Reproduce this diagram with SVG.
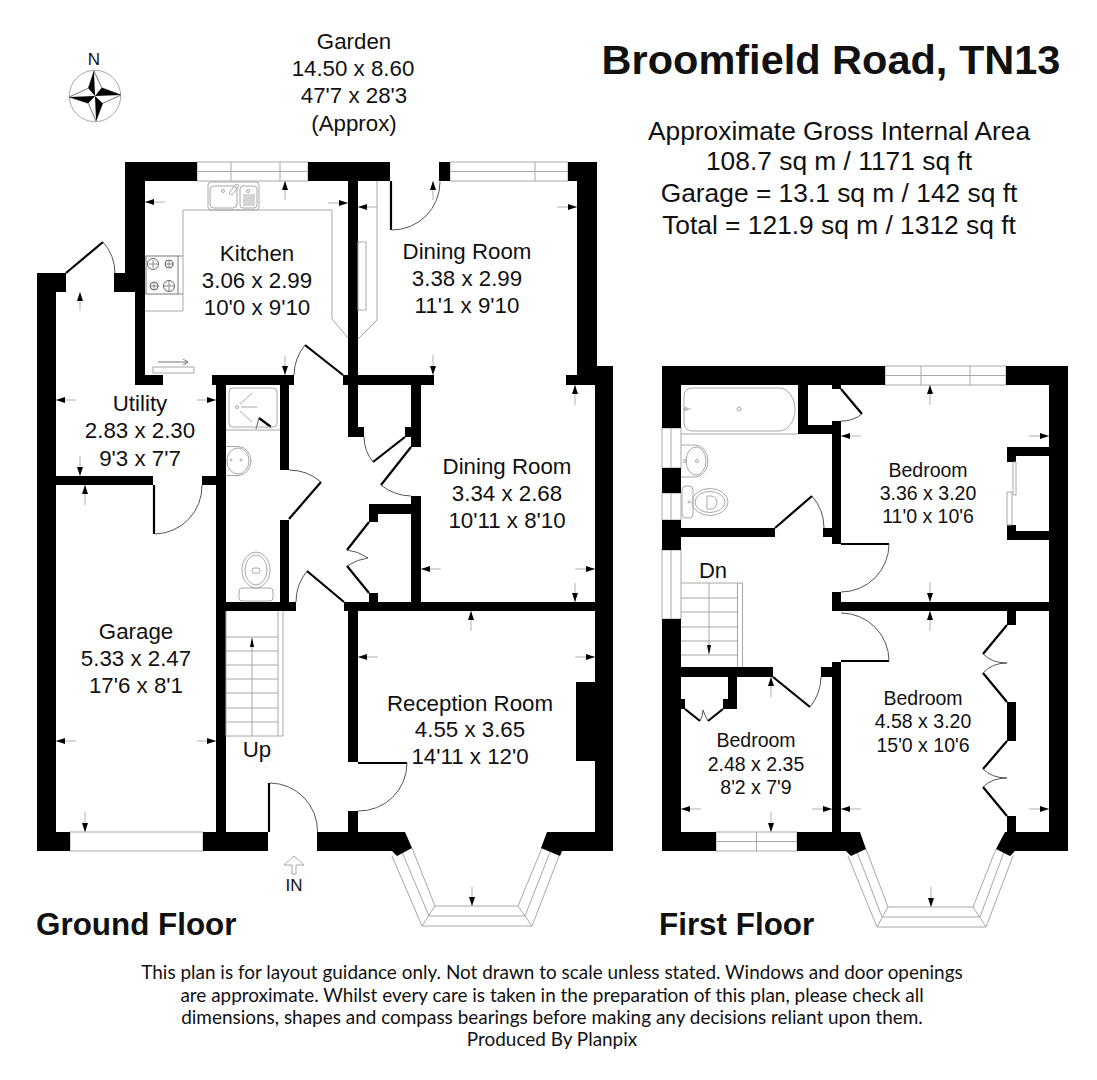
<svg xmlns="http://www.w3.org/2000/svg" width="1097" height="1080" viewBox="0 0 1097 1080">
<style>
text{font-family:"Liberation Sans",Arial,sans-serif;fill:#111;text-anchor:middle}
.r{font-size:22.3px}.b{font-size:19.5px}
.h{font-weight:bold;font-size:31.4px;fill:#111;text-anchor:start}
.f text{font-family:Lato,"Open Sans",sans-serif;font-size:18.95px}
.w{fill:#000}
.g{fill:#fff;stroke:#a8a8a8;stroke-width:1}
.l{fill:none;stroke:#a8a8a8;stroke-width:1}
.d{fill:none;stroke:#000;stroke-width:2.2}
.a{fill:none;stroke:#555;stroke-width:1}
.t{fill:none;stroke:#b0b0b0;stroke-width:1;marker-end:url(#ah)}
</style>
<defs>
<marker id="ah" markerUnits="userSpaceOnUse" markerWidth="10" markerHeight="6" refX="9" refY="3" orient="auto"><path d="M0 0L9 3L0 6Z" fill="#000"/></marker>
<marker id="as" markerUnits="userSpaceOnUse" markerWidth="6" markerHeight="6" refX="5" refY="3" orient="auto"><path d="M0 0L5 3L0 6" fill="none" stroke="#777"/></marker>
</defs>
<rect width="1097" height="1080" fill="#fff"/>

<g id="compass">
<text x="94" y="65" style="font-size:17px">N</text>
<circle cx="95" cy="96" r="25.7" fill="#fff" stroke="#aaa" stroke-width="1"/>
<path d="M94 71L101.7 87.7L121 95L102.7 103.3L96 121L88.3 103.3L69 97L88.3 88.3Z" fill="#fff" stroke="#777" stroke-width="1"/>
<path d="M94 71L88.3 88.3L95 96ZM121 95L101.7 87.7L95 96ZM96 121L102.7 103.3L95 96ZM69 97L88.3 103.3L95 96Z" fill="#000"/>
</g>

<g id="title">
<text x="831" y="74" style="font-size:41.500px;font-weight:bold">Broomfield Road, TN13</text>
<text x="839" y="140" style="font-size:26.350px">Approximate Gross Internal Area</text>
<text x="839" y="170" style="font-size:26.350px">108.7 sq m / 1171 sq ft</text>
<text x="839" y="202" style="font-size:26.350px">Garage = 13.1 sq m / 142 sq ft</text>
<text x="839" y="234" style="font-size:26.350px">Total = 121.9 sq m / 1312 sq ft</text>
</g>

<g id="garden" class="r">
<text x="354" y="49">Garden</text>
<text x="353" y="76">14.50 x 8.60</text>
<text x="354" y="103">47'7 x 28'3</text>
<text x="354" y="131">(Approx)</text>
</g>

<g id="ground-floor-windows">
<rect class="g" x="197" y="162" width="111" height="19"/><path class="l" d="M197 171.5H308M231 162V181M280 162V181"/>
<rect class="g" x="450" y="162" width="118" height="19"/><path class="l" d="M450 171.5H568M535 162V181"/>
<rect class="g" x="70" y="832" width="133" height="19"/>
<path class="l" d="M392 856L422 926H532L559 856M412 848L435 906H518L542 848M402 852L429 916H525L550 852M422 926L435 906M532 926L518 906"/>
</g>

<g id="ground-floor-walls" class="w">
<rect x="125" y="162" width="72" height="19"/><rect x="125" y="162" width="20" height="130"/><rect x="114" y="273" width="31" height="19"/>
<rect x="135" y="292" width="10" height="83"/><rect x="135" y="375" width="28" height="10"/><rect x="212" y="375" width="82" height="10"/>
<rect x="216" y="375" width="10" height="457"/><rect x="280" y="385" width="9" height="85"/><rect x="280" y="520" width="9" height="82"/>
<rect x="225" y="602" width="71" height="9"/><rect x="202" y="476" width="14" height="9"/><rect x="56" y="476" width="97" height="9"/>
<rect x="37" y="273" width="19" height="578"/><rect x="37" y="273" width="29" height="19"/>
<rect x="37" y="832" width="33" height="19"/><rect x="203" y="832" width="65" height="19"/>
<polygon points="317,832 405,832 412,848 397,856 392,851 317,851"/>
<polygon points="547,832 613,832 613,851 562,851 560,856 541,848"/>
<rect x="595" y="366" width="18" height="485"/><rect x="577" y="162" width="20" height="213"/><rect x="568" y="162" width="29" height="19"/><rect x="566" y="375" width="47" height="10"/>
<rect x="308" y="162" width="82" height="19"/><rect x="439" y="162" width="11" height="19"/>
<rect x="348" y="181" width="10" height="256"/><rect x="348" y="427" width="16" height="10"/><rect x="343" y="375" width="91" height="10"/>
<rect x="411" y="375" width="10" height="72"/><rect x="405" y="427" width="6" height="10"/>
<rect x="411" y="496" width="10" height="106"/><rect x="369" y="504" width="42" height="10"/><rect x="369" y="514" width="9" height="8"/><rect x="369" y="593" width="9" height="9"/>
<rect x="344" y="602" width="269" height="9"/><rect x="348" y="611" width="10" height="151"/><rect x="348" y="811" width="10" height="21"/>
<rect x="576" y="682" width="19" height="79"/>
</g>

<g id="ground-floor-doors">
<path class="d" d="M391 181V230M154 485V534M269 783V832M358 763H407M66 273L103 242M305 345L343 375M307 571L344 602M289 519L321 482M373 462L405 437M411 447L381 485M369 522L347 550M347 566L369 593M259 418L271 427"/>
<path class="a" d="M392 230A48 48 0 0 0 440 182M155 534A48 48 0 0 0 202 485M270 783A48 48 0 0 1 317.500 832M407 763A48 48 0 0 1 358 811M103 242A48 48 0 0 1 115 273M294 375A49 49 0 0 1 305 345M296 602A49 49 0 0 1 307 571M289 470A49 49 0 0 1 321 482M364 437A41 41 0 0 0 373 462M381 485A49 49 0 0 0 411 496M347 550Q358 551 368 558Q358 559 347 566M259 418L256 429"/>
</g>

<g id="ground-floor-fixtures">
<path class="l" d="M183 210H332V319L348 338M183 210V311H145M377 181V320L358 339"/>
<rect class="l" x="358" y="242" width="8" height="68"/>
<rect class="l" x="208" y="182" width="51" height="28" rx="3"/><rect class="l" x="210" y="186" width="27" height="22" rx="4"/><rect class="l" x="240" y="186" width="17" height="22" rx="3"/>
<path class="l" d="M243 195H255M243 197H255M243 199H255M243 201H255M243 203H255M243 205H255M229 193L236 184L239 186L232 195Z"/>
<circle class="l" cx="223" cy="191" r="1.500"/><circle class="l" cx="248" cy="191" r="1.500"/>
<rect x="146" y="256" width="32" height="38" fill="#fff" stroke="#777"/><path d="M178 256H183M178 294H183M149 264H158M153 260V268M165 264H174M169 260V268M150 286H159M154 282V290M164 286H174M169 281V291" fill="none" stroke="#888"/>
<circle cx="153" cy="264" r="5.500" fill="none" stroke="#666"/><circle cx="169" cy="264" r="4" fill="none" stroke="#666"/><circle cx="154" cy="286" r="4" fill="none" stroke="#666"/><circle cx="169" cy="286" r="5.500" fill="none" stroke="#666"/>
<rect class="l" x="153" y="367" width="41" height="6"/><path d="M158 362H188" fill="none" stroke="#777" marker-end="url(#as)"/>
<rect class="l" x="229" y="388" width="48" height="39" rx="4"/><path class="l" d="M226 430H280M240 404L252 393M241 407H257M240 411L252 422"/><circle class="l" cx="237" cy="407" r="1.500"/>
<path class="l" d="M226 446.500H238A13 14.500 0 0 1 238 475.500H226"/><ellipse class="l" cx="238" cy="461" rx="11" ry="13"/><circle class="l" cx="241" cy="460" r="1"/><circle class="l" cx="231" cy="460" r="1"/>
<ellipse class="l" cx="256" cy="570" rx="14" ry="18"/><ellipse class="l" cx="256" cy="570" rx="11" ry="15"/><rect class="l" x="252" y="568" width="8" height="5" rx="2"/><rect class="l" x="239" y="588" width="34" height="13" rx="3"/>
<path class="l" d="M226 611V736M278 611V736M283 611V736H226M226 637H278M226 651H278M226 665H278M226 679H278M226 693H278M226 708H278M226 722H278"/>
<path d="M252 736V647" fill="none" stroke="#a8a8a8"/><path d="M250 647L252 637L254 647Z" fill="#000"/>
<path class="l" d="M294 856L284 865H292V874H296V865H304Z"/>
</g>

<g id="dimension-ticks">
<path class="t" d="M165 202H145"/><path class="t" d="M285 200V181"/><path class="t" d="M328 203H348"/><path class="t" d="M285 356V375"/>
<path class="t" d="M377 207H358"/><path class="t" d="M557 207H577"/><path class="t" d="M433 200V181"/><path class="t" d="M433 355V375"/>
<path class="t" d="M575 405V385"/><path class="t" d="M441 569H421"/><path class="t" d="M575 569H595"/><path class="t" d="M575 583V602"/>
<path class="t" d="M76 400H56"/><path class="t" d="M197 400H216"/><path class="t" d="M80 311V292"/><path class="t" d="M80 456V476"/>
<path class="t" d="M85 505V485"/><path class="t" d="M76 741H56"/><path class="t" d="M197 741H216"/><path class="t" d="M85 812V832"/>
<path class="t" d="M471 631V611"/><path class="t" d="M378 657H358"/><path class="t" d="M575 657H595"/><path class="t" d="M472 887V906"/>
<path class="t" d="M930 405V385"/><path class="t" d="M930 582V602"/><path class="t" d="M861 436H841"/><path class="t" d="M1029 436H1049"/>
<path class="t" d="M930 631V611"/><path class="t" d="M861 809H841"/><path class="t" d="M1029 809H1049"/><path class="t" d="M931 887V907"/>
<path class="t" d="M771 697V677"/><path class="t" d="M701 809H681"/><path class="t" d="M812 809H832"/><path class="t" d="M771 812V832"/>
</g>

<g id="ground-floor-labels" class="r">
<text x="257" y="261">Kitchen</text><text x="257" y="288">3.06 x 2.99</text><text x="257" y="315">10'0 x 9'10</text>
<text x="467" y="259">Dining Room</text><text x="467" y="286">3.38 x 2.99</text><text x="467" y="313">11'1 x 9'10</text>
<text x="140" y="411">Utility</text><text x="140" y="438">2.83 x 2.30</text><text x="140" y="466">9'3 x 7'7</text>
<text x="507" y="474">Dining Room</text><text x="507" y="501">3.34 x 2.68</text><text x="507" y="528">10'11 x 8'10</text>
<text x="136" y="639">Garage</text><text x="136" y="666">5.33 x 2.47</text><text x="136" y="693">17'6 x 8'1</text>
<text x="470" y="711">Reception Room</text><text x="470" y="737">4.55 x 3.65</text><text x="470" y="764">14'11 x 12'0</text>
<text x="257" y="757">Up</text>
<text x="294" y="891" style="font-size:17px">IN</text>
</g>

<g id="first-floor-windows">
<rect class="g" x="885" y="366" width="121" height="19"/><path class="l" d="M885 375.500H1006M921 366V385M970 366V385"/>
<rect class="g" x="662" y="428" width="19" height="40"/><rect class="g" x="662" y="493" width="19" height="27"/><rect class="g" x="662" y="550" width="19" height="69"/><path class="l" d="M671 428V468M671 493V520M671 550V619"/>
<rect class="g" x="716" y="832" width="81" height="19"/><path class="l" d="M716 841.500H797M756.500 832V851"/>
<path class="l" d="M848 856L877 927H986L1013 856M866 849L888 907H973L996 849M857 852L882 917H980L1004 852M877 927L888 907M986 927L973 907"/>
</g>

<g id="first-floor-walls" class="w">
<rect x="662" y="366" width="223" height="19"/><rect x="1006" y="366" width="62" height="19"/><rect x="1049" y="366" width="19" height="485"/>
<rect x="662" y="366" width="19" height="62"/><rect x="662" y="468" width="19" height="25"/><rect x="662" y="520" width="19" height="30"/><rect x="662" y="619" width="19" height="232"/>
<rect x="681" y="528" width="94" height="9"/><rect x="823" y="528" width="9" height="9"/><rect x="832" y="421" width="9" height="123"/>
<rect x="798" y="385" width="10" height="49"/><rect x="808" y="425" width="24" height="9"/><rect x="832" y="385" width="9" height="4"/>
<rect x="832" y="592" width="9" height="19"/><rect x="841" y="602" width="208" height="9"/><rect x="832" y="662" width="9" height="170"/>
<rect x="821" y="667" width="11" height="10"/><rect x="681" y="667" width="92" height="10"/><rect x="728" y="677" width="9" height="32"/><rect x="723" y="699" width="5" height="10"/><rect x="681" y="699" width="4" height="10"/>
<rect x="662" y="832" width="54" height="19"/>
<polygon points="797,832 860,832 866,849 851,856 846,851 797,851"/>
<polygon points="1005,832 1068,832 1068,851 1015,851 1010,856 996,849"/>
<rect x="1007" y="816" width="9" height="16"/><rect x="1007" y="702" width="9" height="39"/><rect x="1007" y="611" width="9" height="14"/>
<rect x="1007" y="447" width="42" height="9"/><rect x="1007" y="456" width="9" height="6"/><rect x="1007" y="531" width="42" height="9"/><rect x="1007" y="525" width="9" height="6"/>
</g>

<g id="first-floor-doors">
<path class="d" d="M775 528L812 496M841 389L862 414M841 544H889M841 661H889M773 677L810 707M685 709L700 721M723 709L708 721M1007 625L983 654M983 673L1007 702M1007 741L983 769M983 787L1007 816"/>
<path class="a" d="M812 496A49 49 0 0 1 824 528M862 414A32 32 0 0 1 841 421M889 544A48 48 0 0 1 841 592M841 613A48 48 0 0 1 889 661M810 707A49 49 0 0 0 821 677M700 721Q703 716 703 710Q705 716 708 721M983 654Q992 663 1007 663Q992 663 983 673M983 769Q992 778 1007 778Q992 778 983 787"/>
</g>

<g id="first-floor-fixtures">
<path class="l" d="M681 434H798"/>
<path class="l" d="M692 388H779A16 21.500 0 0 1 779 431H692A8 8 0 0 1 684 423V396A8 8 0 0 1 692 388Z"/>
<circle class="l" cx="739" cy="409" r="2"/><path class="l" d="M683 409H691"/><circle class="l" cx="686" cy="409" r="1.500"/>
<path class="l" d="M681 445H695A13 16 0 0 1 695 477H681"/><ellipse class="l" cx="696" cy="461" rx="10" ry="14"/><circle class="l" cx="685" cy="461" r="1.500"/><circle class="l" cx="697" cy="461" r="1.500"/>
<rect class="l" x="682" y="486" width="11" height="32" rx="4"/><ellipse class="l" cx="710" cy="502" rx="18" ry="13.500"/><ellipse class="l" cx="710" cy="502" rx="15" ry="10.500"/><path class="l" d="M707 496V509H711A6 6.500 0 0 0 711 496Z"/><circle class="l" cx="689" cy="502" r="1"/>
<path class="l" d="M681 583H742.500V667M737.500 583V667M681 598H737.500M681 612H737.500M681 627H737.500M681 641H737.500M681 655H737.500"/>
<path d="M709 583V645" fill="none" stroke="#a8a8a8"/><path d="M707 645L709 655L711 645Z" fill="#000"/>
<path class="l" d="M1013 462H1016V495H1013ZM1007 492H1012V525H1007Z"/>
</g>

<g id="first-floor-labels" class="b">
<text x="928" y="477">Bedroom</text><text x="928" y="500">3.36 x 3.20</text><text x="928" y="523">11'0 x 10'6</text>
<text x="923" y="705">Bedroom</text><text x="923" y="728">4.58 x 3.20</text><text x="923" y="752">15'0 x 10'6</text>
<text x="756" y="747">Bedroom</text><text x="756" y="771">2.48 x 2.35</text><text x="756" y="794">8'2 x 7'9</text>
<text x="713" y="578" style="font-size:22px">Dn</text>
</g>

<g id="floor-names">
<text class="h" x="36" y="935">Ground Floor</text>
<text class="h" x="659" y="935">First Floor</text>
</g>

<g id="disclaimer" class="f">
<text x="552" y="979">This plan is for layout guidance only. Not drawn to scale unless stated. Windows and door openings</text>
<text x="552" y="1002">are approximate. Whilst every care is taken in the preparation of this plan, please check all</text>
<text x="552" y="1024">dimensions, shapes and compass bearings before making any decisions reliant upon them.</text>
<text x="552" y="1046">Produced By Planpix</text>
</g>
</svg>
